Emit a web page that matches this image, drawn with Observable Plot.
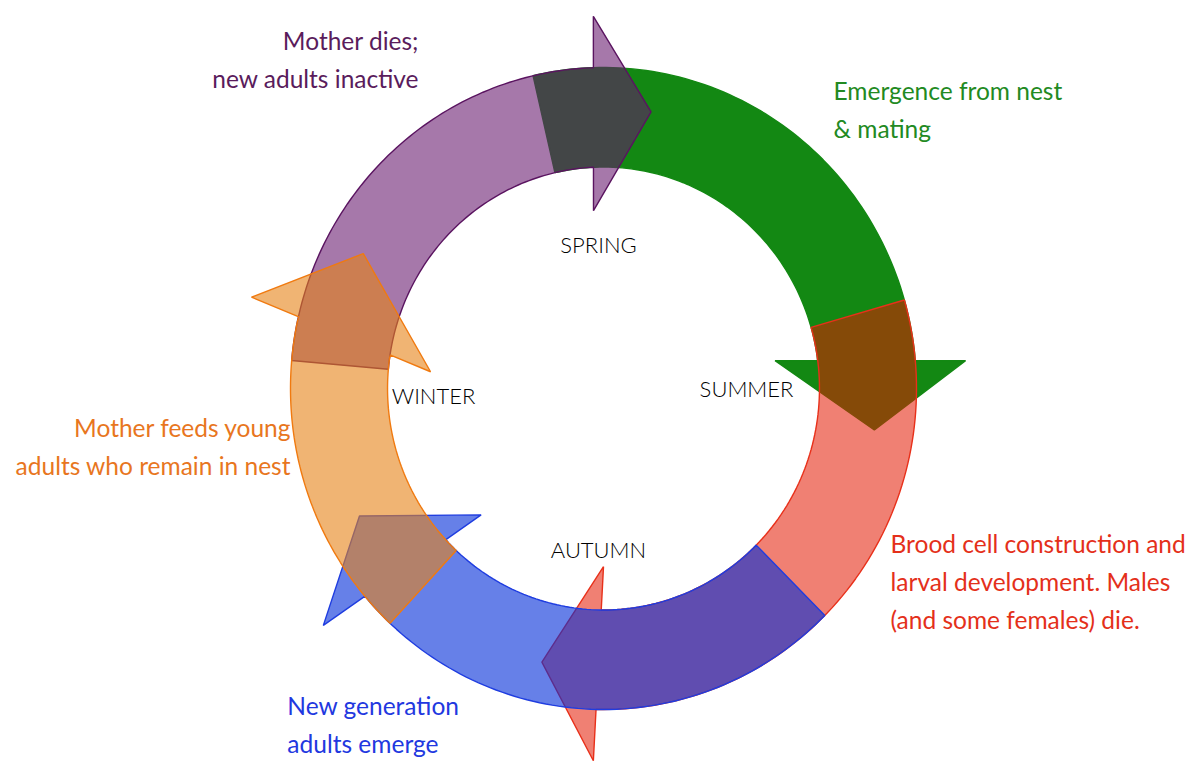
<!DOCTYPE html>
<html><head><meta charset="utf-8">
<script src="https://cdn.jsdelivr.net/npm/d3@7"></script>
<script src="https://cdn.jsdelivr.net/npm/@observablehq/plot@0.6"></script>
<style>
html,body{margin:0;padding:0;background:#fff;}
#chart svg{display:block;}
</style>
</head><body><div id="chart"></div>
<script>
// ---- data (cycle order: winter->spring, spring->summer, summer->autumn, autumn->winter(lower), winter) ----
const stageNames   = ["purple", "green", "red", "blue", "orange"];
const stageLabels  = [
  "Mother dies;\nnew adults inactive",
  "Emergence from nest\n& mating",
  "Brood cell construction and\nlarval development. Males\n(and some females) die.",
  "New generation\nadults emerge",
  "Mother feeds young\nadults who remain in nest"
];
// arrow angles, degrees clockwise from the top of the circle
const arcStart      = [-85, -13, 74, 135, 223];
const headBaseInner = [-3.3, 81, 180, 224.8, 275.4];
const headBaseOuter = [-1.6, 85.7, 181.6, 230.5, 284.2];
const headTip       = [10, 98.5, 193, 243, 298.7];
const seasons       = ["SPRING", "SUMMER", "AUTUMN", "WINTER"];

// ---- styles / layout ----
const fills    = ["#66166c", "#138813", "#e31800", "#002bd9", "#e68216"];
const fillOp   = [0.58, 1, 0.55, 0.6, 0.6];
const strokes  = ["#5a1460", "#138813", "#e8301a", "#1f3de0", "#f07a10"];
const textCols = ["#5a1c5c", "#228a22", "#e4301a", "#2238e0", "#e8761e"];
const drawOrder = [1, 2, 3, 0, 4];
const R_IN = 0.69, R_OUT = 1.0, BARB_IN = 0.555, BARB_OUT = 1.16, TIP_R = 0.875;
const labelPos = [
  {x: -0.591, y: 1.032, anchor: "end"},
  {x: 0.735,  y: 0.877, anchor: "start"},
  {x: 0.917,  y: -0.594, anchor: "start"},
  {x: -1.01,  y: -1.037, anchor: "start"},
  {x: -1.0,   y: -0.172, anchor: "end"}
];
const seasonPos = [
  {x: -0.016, y: 0.445},
  {x: 0.457,  y: -0.006},
  {x: -0.016, y: -0.505},
  {x: -0.543, y: -0.025}
];

const rad = d => d * Math.PI / 180;
const pt = (a, r) => [r * Math.sin(rad(a)), r * Math.cos(rad(a))];
const lerp = (p, q, t) => [p[0] + (q[0] - p[0]) * t, p[1] + (q[1] - p[1]) * t];
const angOf = (p, ref) => { let a = Math.atan2(p[0], p[1]) * 180 / Math.PI; while (a < ref) a += 360; while (a > ref + 360) a -= 360; return a; };

function arrowPolygon(i) {
  const s = arcStart[i];
  const bi = pt(headBaseInner[i], BARB_IN), bo = pt(headBaseOuter[i], BARB_OUT);
  const ci = lerp(bi, bo, (R_IN - BARB_IN) / (BARB_OUT - BARB_IN));
  const co = lerp(bi, bo, (R_OUT - BARB_IN) / (BARB_OUT - BARB_IN));
  const aci = angOf(ci, s), aco = angOf(co, s);
  const tip = pt(headTip[i], TIP_R);
  const pts = [];
  const n = 80;
  for (let k = 0; k < n; k++) pts.push(pt(s + (aci - s) * k / n, R_IN));
  pts.push(ci, bi, tip, bo, co);
  for (let k = 1; k <= n; k++) pts.push(pt(aco + (s - aco) * k / n, R_OUT));
  return pts.map(([x, y]) => ({x, y}));
}

const marks = [];
for (const i of drawOrder) {
  marks.push(Plot.line(arrowPolygon(i), {
    x: "x", y: "y", curve: "linear-closed",
    fill: fills[i], fillOpacity: fillOp[i],
    stroke: strokes[i], strokeWidth: 1.4, strokeLinejoin: "miter"
  }));
}
const labelData = stageLabels.map((t, i) => ({text: t, ...labelPos[i], color: textCols[i]}));
for (const d of labelData) {
  marks.push(Plot.text([d], {
    x: "x", y: "y", text: "text", fill: d.color, textAnchor: d.anchor,
    lineAnchor: "middle", lineHeight: 1.55, fontSize: 24.5, fontWeight: 400,
    fontFamily: "Lato, 'Open Sans', sans-serif"
  }));
}
marks.push(Plot.text(seasons.map((s, i) => ({text: s, ...seasonPos[i]})), {
  x: "x", y: "y", text: "text", fill: "#000", fontSize: 22, fontWeight: 300,
  fontFamily: "Lato, 'Open Sans', sans-serif"
}));

const chart = Plot.plot({
  width: 1201, height: 762, margin: 0,
  x: {domain: [-603 / 313, 598 / 313], axis: null},
  y: {domain: [-374 / 321, 388 / 321], axis: null},
  style: {background: "#fff", overflow: "visible"},
  marks
});
document.getElementById("chart").appendChild(chart);
</script>
</body></html>
